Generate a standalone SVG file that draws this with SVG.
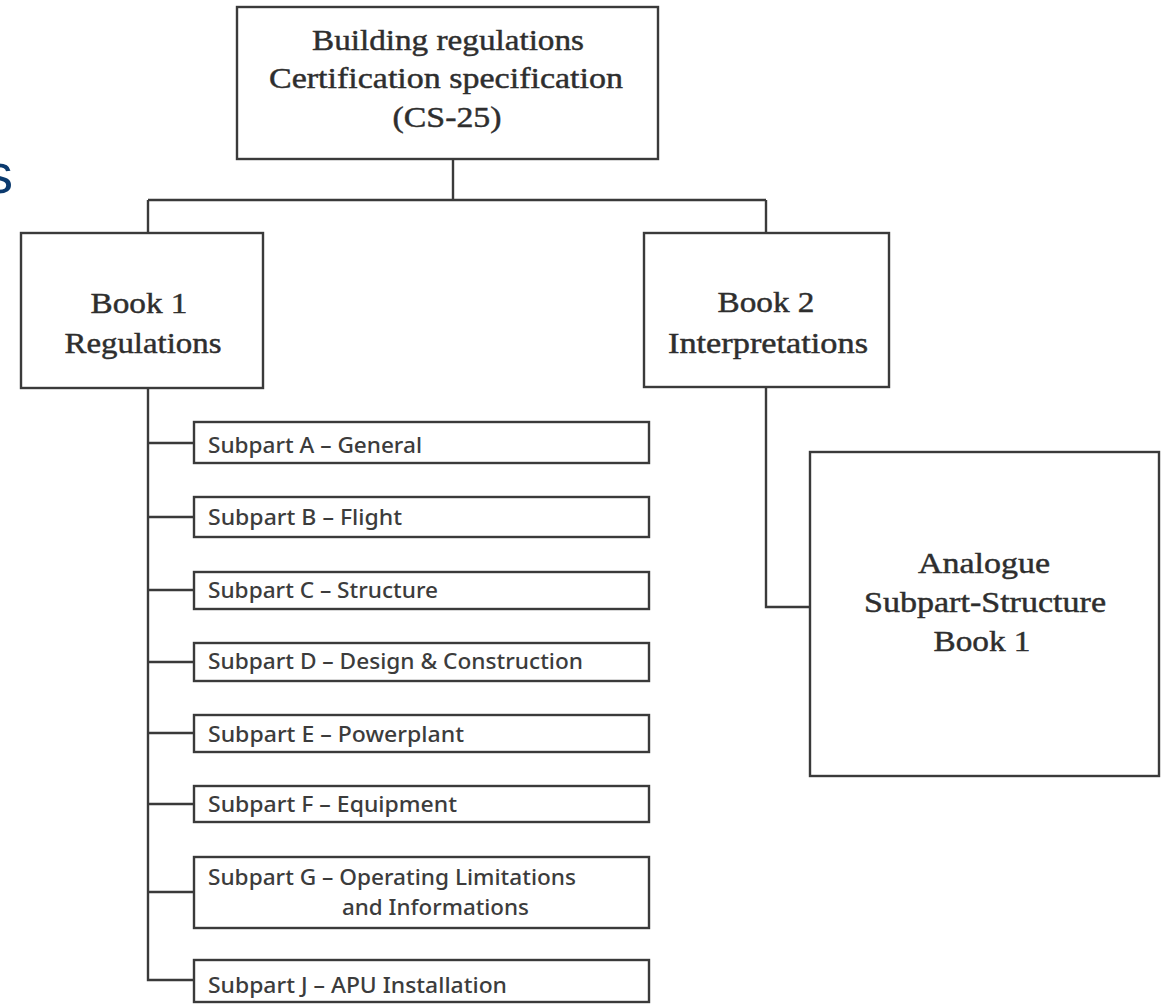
<svg xmlns="http://www.w3.org/2000/svg" width="1162" height="1004" viewBox="0 0 1162 1004">
<style>
.box{fill:#fff;stroke:#3a3a3a;stroke-width:2.4}
.ln{fill:none;stroke:#3a3a3a;stroke-width:2.4}
.ser{font-family:"Liberation Serif","Times New Roman",serif;font-size:30px;fill:#2e2e2e;stroke:#2e2e2e;stroke-width:0.45;text-anchor:middle}
.sub{font-family:"Noto Sans","DejaVu Sans",sans-serif;font-size:21px;fill:#3c3c3c;font-weight:500}
</style>
<rect width="1162" height="1004" fill="#fff"/>
<text x="-15" y="193" font-family="Liberation Sans, Arial, sans-serif" font-size="56" fill="#0b3a6e">s</text>
<g id="connectors">
<path class="ln" d="M453 159V200M148 200H766M148 200V233M766 200V233"/>
<path class="ln" d="M148 388V980H194M148 443H194M148 517H194M148 590H194M148 662H194M148 733H194M148 804H194M148 892H194"/>
<path class="ln" d="M766 387V607H810"/>
</g>
<g id="cs25">
<rect class="box" x="237" y="7" width="421" height="152"/>
<text class="ser" x="448" y="50" textLength="272" lengthAdjust="spacingAndGlyphs">Building regulations</text>
<text class="ser" x="446" y="88" textLength="354" lengthAdjust="spacingAndGlyphs">Certification specification</text>
<text class="ser" x="447" y="127" textLength="109" lengthAdjust="spacingAndGlyphs">(CS-25)</text>
</g>
<g id="book1">
<rect class="box" x="21" y="233" width="242" height="155"/>
<text class="ser" x="139" y="313" textLength="97" lengthAdjust="spacingAndGlyphs">Book 1</text>
<text class="ser" x="143" y="353" textLength="157" lengthAdjust="spacingAndGlyphs">Regulations</text>
</g>
<g id="book2">
<rect class="box" x="644" y="233" width="245" height="154"/>
<text class="ser" x="766" y="312" textLength="97" lengthAdjust="spacingAndGlyphs">Book 2</text>
<text class="ser" x="768" y="353" textLength="200" lengthAdjust="spacingAndGlyphs">Interpretations</text>
</g>
<g id="analogue">
<rect class="box" x="810" y="452" width="349" height="324"/>
<text class="ser" x="984" y="573" textLength="132" lengthAdjust="spacingAndGlyphs">Analogue</text>
<text class="ser" x="985" y="612" textLength="242" lengthAdjust="spacingAndGlyphs">Subpart-Structure</text>
<text class="ser" x="982" y="651" textLength="97" lengthAdjust="spacingAndGlyphs">Book 1</text>
</g>
<g id="subA">
<rect class="box" x="194" y="422" width="455" height="41"/>
<text class="sub" x="208" y="453" textLength="214" lengthAdjust="spacingAndGlyphs">Subpart A – General</text>
</g>
<g id="subB">
<rect class="box" x="194" y="497" width="455" height="40"/>
<text class="sub" x="208" y="525" textLength="194" lengthAdjust="spacingAndGlyphs">Subpart B – Flight</text>
</g>
<g id="subC">
<rect class="box" x="194" y="572" width="455" height="37"/>
<text class="sub" x="208" y="598" textLength="230" lengthAdjust="spacingAndGlyphs">Subpart C – Structure</text>
</g>
<g id="subD">
<rect class="box" x="194" y="643" width="455" height="38"/>
<text class="sub" x="208" y="669" textLength="375" lengthAdjust="spacingAndGlyphs">Subpart D – Design &amp; Construction</text>
</g>
<g id="subE">
<rect class="box" x="194" y="715" width="455" height="37"/>
<text class="sub" x="208" y="742" textLength="256" lengthAdjust="spacingAndGlyphs">Subpart E – Powerplant</text>
</g>
<g id="subF">
<rect class="box" x="194" y="786" width="455" height="36"/>
<text class="sub" x="208" y="812" textLength="249" lengthAdjust="spacingAndGlyphs">Subpart F – Equipment</text>
</g>
<g id="subG">
<rect class="box" x="194" y="857" width="455" height="71"/>
<text class="sub" x="208" y="885" textLength="368" lengthAdjust="spacingAndGlyphs">Subpart G – Operating Limitations</text>
<text class="sub" x="342" y="915" textLength="187" lengthAdjust="spacingAndGlyphs">and Informations</text>
</g>
<g id="subJ">
<rect class="box" x="194" y="960" width="455" height="42"/>
<text class="sub" x="208" y="993" textLength="299" lengthAdjust="spacingAndGlyphs">Subpart J – APU Installation</text>
</g>
</svg>
